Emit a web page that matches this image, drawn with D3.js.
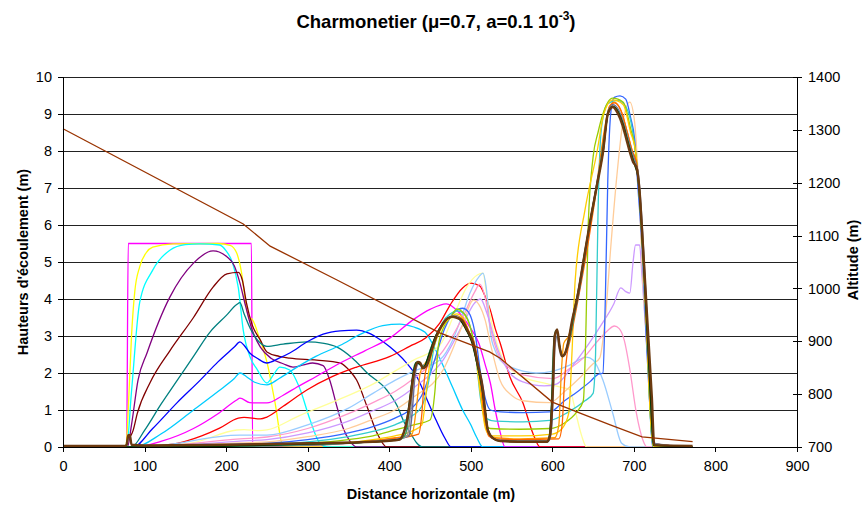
<!DOCTYPE html>
<html><head><meta charset="utf-8">
<script src="https://cdn.jsdelivr.net/npm/d3@7"></script>
<style>body{margin:0;background:#fff} text{font-family:"Liberation Sans",Arial,sans-serif;fill:#000}</style>
</head><body><svg id="c" width="865" height="507"></svg>
<script>
// ---------- DATA ----------
const xTicks = [0,100,200,300,400,500,600,700,800,900];
const hTicks = [0,1,2,3,4,5,6,7,8,9,10];
const altTicks = [700,800,900,1000,1100,1200,1300,1400];

// altitude profile [distance m, altitude m]
const altitude = [[0,1302],[221,1122],[254,1080],[336,1016],[462,916],[523,880],[536,868],[600,785],[634,764],[671,742],[710,719],[772,710]];

// flow heights [distance m, height m], one array per time step
const h00 = [[0,0],[78,0],[80,5.5],[231,5.5],[232.5,0],[772,0]];
const h01 = [[0,0],[77,0],[80,1.0],[84,3.0],[88,4.2],[94,4.87],[102,5.25],[110,5.4],[135,5.49],[190,5.5],[205,5.45],[213,5.24],[219,4.7],[224,3.9],[228,3.5],[232,3.45],[240,3.0],[250,2.3],[260,1.2],[270,0],[772,0]];
const h02 = [[0,0],[78,0],[84,1.5],[94,3.9],[110,4.78],[131,5.32],[150,5.47],[168,5.49],[192,5.46],[200,5.3],[208,4.97],[215,4.3],[221,3.16],[230,2.4],[238,2.1],[250,1.73],[258,1.95],[266,2.16],[278,2.08],[290,1.6],[303,0.73],[315,0.1],[324,0],[772,0]];
const h03 = [[0,0],[79,0],[84,0.6],[92,1.81],[103,2.54],[131,4.05],[160,4.97],[184,5.3],[201,5.14],[210,4.9],[217,4.43],[224,3.8],[232,3.16],[242,2.7],[255,2.4],[270,2.25],[282,2.16],[295,2.22],[306,2.27],[319,2.2],[327,1.81],[336,1.08],[343,0.54],[352,0.15],[360,0],[772,0]];
const h04 = [[0,0],[77,0],[80,0.25],[83,0.3],[86,0.45],[91,0.9],[107,1.75],[131,2.6],[160,3.5],[184,4.32],[201,4.68],[215,4.72],[220,4.5],[225,3.89],[232,3.3],[242,2.89],[250,2.57],[265,2.45],[278,2.4],[311,2.35],[340,2.27],[352,2.05],[360,1.81],[373,1.08],[385,0.38],[397,0],[772,0]];
const h05 = [[0,0],[84,0],[100,0.45],[120,1.15],[140,1.8],[160,2.45],[180,3.1],[200,3.55],[213,3.85],[217,3.9],[222,3.6],[232,3.1],[240,2.85],[250,2.72],[270,2.78],[299,2.84],[320,2.8],[336,2.7],[355,2.4],[373,2.0],[397,1.54],[410,1.1],[417,0.73],[428,0.3],[434,0.1],[441,0],[772,0]];
const h06 = [[0,0],[86,0],[110,0.5],[140,1.2],[168,1.8],[190,2.3],[210,2.7],[217,2.84],[222,2.75],[229,2.54],[238,2.4],[250,2.27],[265,2.4],[278,2.54],[300,2.85],[319,3.05],[340,3.14],[360,3.16],[375,3.08],[389,2.9],[401,2.7],[420,2.3],[435,1.85],[446,1.3],[458,0.7],[468,0.25],[476,0],[772,0]];
const h07 = [[0,0],[88,0],[120,0.35],[160,1.0],[190,1.5],[210,1.85],[217,2.0],[225,1.9],[235,1.75],[250,1.68],[265,1.85],[287,2.16],[310,2.45],[340,2.75],[365,3.05],[392,3.28],[413,3.32],[429,3.25],[444,3.1],[454,2.75],[465,2.25],[478,1.6],[490,1.0],[500,0.6],[507,0.27],[515,0],[772,0]];
const h08 = [[0,0],[88,0],[120,0.15],[160,0.5],[190,0.9],[213,1.27],[217,1.32],[229,1.2],[240,1.19],[250,1.19],[270,1.4],[287,1.62],[310,1.9],[340,2.27],[370,2.6],[401,2.95],[430,3.45],[450,3.72],[470,3.87],[485,3.65],[500,3.2],[510,2.8],[518,2.2],[524,1.73],[530,1.0],[536,0.4],[542,0],[772,0]];
const h09 = [[0,0],[94,0],[140,0.1],[170,0.3],[192,0.51],[215,0.78],[222,0.8],[242,0.76],[250,0.81],[270,1.1],[299,1.54],[330,1.9],[360,2.16],[401,2.45],[425,2.72],[445,2.95],[462,3.35],[475,3.85],[490,4.3],[500,4.43],[511,4.35],[518,4.05],[524,3.7],[530,3.2],[536,2.81],[548,1.89],[564,1.19],[576,0.38],[585,0],[772,0]];
const h10 = [[0,0],[94,0],[160,0.12],[213,0.46],[222,0.47],[240,0.44],[250,0.46],[290,0.85],[340,1.3],[380,1.7],[407,2.05],[430,2.35],[462,2.75],[480,3.6],[495,4.32],[508,4.65],[515,4.7],[519,4.2],[524,3.51],[532,2.8],[540,2.35],[552,2.05],[564,1.89],[589,1.73],[610,1.62],[622,1.54],[626,1.2],[630,0.81],[636,0.3],[642,0],[772,0]];
const h11 = [[0,0],[96,0],[217,0.32],[250,0.32],[300,0.6],[350,1.05],[380,1.45],[407,1.8],[430,2.05],[462,2.35],[478,2.9],[490,3.6],[499,4.16],[510,4.6],[515,4.7],[519,4.3],[524,3.1],[530,2.6],[536,2.35],[550,2.15],[564,2.05],[580,2.0],[601,2.05],[620,2.2],[642,2.43],[650,2.35],[662,1.81],[674,0.92],[685,0.1],[695,0],[772,0]];
const h12 = [[0,0],[96,0],[217,0.22],[250,0.27],[300,0.5],[350,0.9],[380,1.2],[407,1.5],[430,1.85],[466,2.6],[490,3.5],[505,4.2],[511,4.4],[518,4.0],[524,3.24],[536,2.4],[550,2.1],[564,1.95],[601,1.85],[620,2.1],[640,2.45],[655,2.85],[668,3.15],[676,3.27],[682,3.2],[688,2.9],[695,2.1],[703,0.92],[711,0.19],[716,0],[772,0]];
const h13 = [[0,0],[96,0],[217,0.16],[250,0.2],[300,0.38],[350,0.7],[380,0.98],[407,1.25],[430,1.6],[466,2.35],[490,3.3],[505,3.9],[512,4.0],[520,3.6],[532,2.7],[548,2.0],[564,1.76],[590,1.65],[605,1.7],[625,2.2],[645,2.8],[660,3.3],[675,3.85],[684,4.3],[690,4.2],[695,4.16],[699,5.0],[702,5.46],[707,5.46],[710,4.6],[716,2.7],[722,0.92],[725,0],[772,0]];
const h14 = [[0,0],[96,0],[217,0.11],[250,0.14],[300,0.28],[350,0.5],[380,0.75],[407,1.0],[430,1.35],[466,2.08],[490,3.3],[503,3.97],[510,3.85],[518,3.4],[524,2.8],[536,1.8],[550,1.4],[564,1.25],[597,1.2],[615,1.5],[635,1.9],[650,2.25],[658,2.4],[665,3.5],[672,5.5],[679,7.3],[687,8.84],[695,9.32],[701,8.76],[706,7.0],[711,4.5],[716,2.7],[722,0.92],[725,0],[772,0]];
const h15 = [[0,0],[96,0],[217,0.08],[250,0.1],[300,0.2],[350,0.38],[380,0.55],[407,0.78],[425,1.0],[440,1.4],[455,2.3],[468,3.2],[480,3.65],[490,3.75],[497,3.65],[505,3.1],[512,2.0],[518,1.3],[524,1.0],[536,0.95],[564,0.93],[597,0.95],[615,1.25],[634,1.55],[646,1.76],[655,1.95],[662,2.0],[665,4.0],[668,7.2],[672,9.1],[676,9.45],[683,9.49],[690,9.4],[696,8.9],[701,8.3],[705,7.0],[710,5.41],[715,3.0],[720,0.92],[723,0],[772,0]];
const h16 = [[0,0],[96,0],[217,0.05],[250,0.07],[300,0.14],[350,0.28],[380,0.42],[407,0.6],[425,0.8],[440,1.1],[448,1.73],[455,2.7],[465,3.35],[475,3.6],[483,3.68],[492,3.6],[500,3.2],[506,2.5],[512,1.3],[518,0.78],[530,0.7],[564,0.68],[597,0.72],[620,0.95],[640,1.25],[650,1.45],[653,2.5],[656,6.3],[659,8.3],[663,9.0],[668,9.28],[680,9.37],[690,9.2],[700,8.3],[706,7.0],[711,5.2],[716,3.0],[721,0.5],[724,0],[772,0]];
const h17 = [[0,0],[96,0],[250,0.05],[300,0.1],[350,0.2],[380,0.3],[407,0.46],[430,0.6],[450,0.73],[456,1.5],[460,2.7],[466,3.2],[475,3.5],[483,3.73],[490,3.65],[500,3.2],[505,2.7],[512,1.5],[518,0.62],[524,0.5],[560,0.48],[597,0.5],[615,0.65],[630,0.95],[638,1.25],[641,3.0],[644,6.0],[650,7.84],[656,8.5],[662,9.0],[674,9.43],[687,9.32],[696,8.6],[702,8.0],[708,6.4],[715,3.5],[721,0.6],[724,0],[772,0]];
const h18 = [[0,0],[96,0],[300,0.06],[380,0.2],[407,0.3],[430,0.45],[440,0.6],[446,1.6],[450,2.3],[456,2.8],[465,3.25],[475,3.5],[483,3.6],[490,3.5],[498,3.1],[505,2.6],[512,1.4],[518,0.5],[524,0.3],[560,0.3],[600,0.35],[612,0.5],[620,0.9],[624,2.5],[628,4.5],[640,6.4],[655,8.0],[663,9.0],[674,9.38],[687,9.25],[696,8.5],[702,8.0],[708,6.4],[715,3.5],[721,0.6],[724,0],[772,0]];
const h19 = [[0,0],[96,0],[300,0.05],[380,0.17],[407,0.25],[428,0.35],[434,1.2],[438,2.0],[442,2.2],[448,2.4],[456,2.9],[465,3.3],[474,3.5],[482,3.55],[490,3.45],[498,3.1],[505,2.7],[511,1.9],[517,0.8],[522,0.35],[530,0.25],[560,0.22],[603,0.25],[608,0.6],[611,2.0],[614,2.8],[620,3.0],[628,3.7],[640,5.2],[655,7.2],[664,8.6],[670,9.2],[676,9.32],[684,9.1],[692,8.5],[698,8.0],[703,7.7],[708,6.6],[713,4.5],[719,1.8],[724,0.1],[772,0]];
const h20 = [[0,0],[96,0],[300,0.05],[380,0.16],[407,0.23],[436,0.35],[440,0.9],[443,1.8],[447,2.25],[452,2.6],[458,3.0],[466,3.35],[474,3.5],[482,3.52],[490,3.45],[498,3.1],[505,2.75],[511,1.9],[517,0.8],[522,0.3],[530,0.22],[560,0.2],[608,0.22],[612,0.6],[615,1.8],[618,2.5],[622,2.9],[630,3.8],[640,5.0],[655,7.1],[664,8.5],[670,9.2],[676,9.3],[684,9.1],[692,8.5],[698,8.0],[703,7.7],[708,6.6],[713,4.5],[719,1.8],[724,0.1],[772,0]];
const h21 = [[0,0],[96,0],[300,0.05],[380,0.15],[407,0.2],[424,0.3],[428,0.9],[431,1.8],[434,2.2],[437,2.3],[440,2.2],[444,2.2],[450,2.55],[457,2.95],[465,3.3],[473,3.5],[480,3.55],[487,3.47],[495,3.2],[502,2.85],[508,2.3],[514,1.6],[518,0.9],[521,0.45],[527,0.24],[536,0.18],[570,0.16],[596,0.17],[599,0.5],[601,1.5],[603,2.7],[606,3.0],[609,2.7],[612,2.45],[616,2.55],[620,2.8],[626,3.5],[632,4.1],[640,5.2],[648,6.3],[656,7.3],[663,8.2],[668,9.0],[674,9.25],[681,9.12],[687,8.78],[692,8.4],[697,8.0],[701,7.75],[705,7.45],[709,6.4],[714,4.4],[720,1.8],[724,0.1],[772,0]];
const h22 = [[0,0],[96,0],[300,0.06],[380,0.15],[410,0.2],[422,0.3],[426,0.9],[430,1.8],[433,2.2],[436,2.3],[439,2.2],[444,2.2],[450,2.6],[457,3.0],[465,3.32],[473,3.5],[480,3.55],[487,3.47],[495,3.18],[502,2.83],[508,2.25],[514,1.58],[518,0.9],[521,0.45],[527,0.24],[536,0.17],[570,0.15],[595,0.16],[598,0.5],[600,1.6],[602,2.9],[605,3.1],[608,2.7],[611,2.45],[615,2.52],[619,2.75],[626,3.55],[632,4.15],[640,5.25],[648,6.3],[656,7.3],[663,8.2],[668,9.05],[674,9.22],[681,9.08],[687,8.75],[692,8.35],[697,7.95],[701,7.7],[705,7.4],[709,6.3],[714,4.3],[720,1.7],[724,0.08],[772,0]];
const h23 = [[0,0],[96,0],[300,0.07],[380,0.14],[412,0.2],[420,0.35],[424,0.9],[428,1.8],[431,2.2],[434,2.3],[438,2.22],[443,2.18],[450,2.6],[457,3.0],[465,3.3],[472,3.48],[479,3.53],[486,3.46],[495,3.16],[502,2.82],[508,2.22],[514,1.56],[518,0.9],[521,0.45],[527,0.24],[536,0.16],[570,0.15],[594,0.15],[597,0.4],[599,1.2],[601,2.5],[604,3.15],[607,3.0],[610,2.6],[613,2.45],[617,2.6],[622,3.0],[628,3.7],[634,4.4],[642,5.5],[650,6.5],[658,7.5],[664,8.4],[669,9.1],[674,9.2],[681,9.05],[687,8.72],[692,8.32],[697,7.92],[701,7.65],[705,7.35],[709,6.2],[714,4.2],[720,1.6],[724,0.06],[772,0]];
const h24 = [[0,0],[96,0],[300,0.08],[380,0.14],[412,0.2],[418,0.4],[422,0.8],[427,1.6],[430,2.05],[433,2.28],[437,2.25],[442,2.15],[448,2.45],[456,2.95],[464,3.28],[471,3.47],[478,3.52],[485,3.48],[494,3.18],[501,2.85],[508,2.22],[514,1.56],[518,0.9],[521,0.46],[527,0.24],[536,0.16],[570,0.14],[594,0.14],[597,0.35],[599,1.0],[601,2.0],[603,3.05],[606,3.12],[609,2.7],[612,2.45],[616,2.55],[620,2.9],[626,3.6],[632,4.25],[640,5.3],[648,6.3],[656,7.25],[663,8.1],[668,9.0],[674,9.2],[681,9.04],[687,8.7],[692,8.3],[697,7.9],[701,7.62],[705,7.3],[709,6.1],[714,4.1],[720,1.5],[724,0.05],[772,0]];
const h25 = [[0,0.03],[76,0.03],[78,0.06],[80,0.32],[82,0.32],[84,0.06],[100,0.04],[200,0.06],[300,0.1],[380,0.14],[413,0.2],[418,0.4],[422,0.73],[426,1.3],[429,1.81],[432,2.15],[435,2.3],[438,2.27],[441,2.13],[446,2.2],[452,2.6],[458,3.0],[465,3.3],[472,3.48],[478,3.52],[483,3.49],[489,3.43],[496,3.15],[503,2.81],[509,2.2],[515,1.54],[518,0.9],[521,0.46],[527,0.24],[536,0.16],[570,0.14],[593,0.14],[597,0.3],[599,0.8],[601,1.73],[603,3.0],[606,3.18],[609,2.7],[612,2.45],[615,2.5],[618,2.7],[625,3.5],[630,3.97],[638,5.0],[646,6.05],[655,7.1],[662,7.95],[668,9.0],[674,9.19],[680,9.03],[686,8.7],[691,8.3],[696,7.9],[699,7.7],[703,7.57],[707,6.9],[710,5.86],[716,3.6],[722,1.35],[725,0.05],[772,0.03]];

const flowSeries = [h00,h01,h02,h03,h04,h05,h06,h07,h08,h09,h10,h11,h12,h13,h14,h15,h16,h17,h18,h19,h20,h21,h22,h23,h24,h25];
const flowColors = ["#FF00FF","#FFFF00","#00FFFF","#800080","#800000","#008080","#0000FF","#00CCFF","#FF00FF","#FF0000",
  "#FFFF99","#99CCFF","#FF99CC","#CC99FF","#FFCC99","#3366FF","#33CCCC","#99CC00","#FFCC00","#FF9900",
  "#FF6600","#666699","#969696","#339966","#003300","#6B3A10"];
const flowWidths = [1.3,1.3,1.3,1.3,1.3,1.3,1.3,1.3,1.3,1.3,1.3,1.3,1.3,1.3,1.3,1.3,1.3,1.3,1.3,1.3,1.3,1.5,1.5,1.5,1.5,2.4];
const altColor = "#993300";

// ---------- CHART ----------
const svg = d3.select("#c");
svg.append("rect").attr("width",865).attr("height",507).attr("fill","#fff");
const L=63,R=797,T=77,B=447;
const x = d3.scaleLinear().domain([0,900]).range([L,R]);
const y = d3.scaleLinear().domain([0,10]).range([B,T]);
const y2 = d3.scaleLinear().domain([700,1400]).range([B,T]);

// gridlines
svg.append("g").selectAll("line").data(hTicks.filter(d=>d>0)).join("line")
  .attr("x1",L).attr("x2",R).attr("y1",d=>y(d)).attr("y2",d=>y(d))
  .attr("stroke","#222").attr("stroke-width",1).attr("shape-rendering","crispEdges");

// flow lines
const line = d3.line().x(d=>x(d[0])).y(d=>y(d[1])).curve(d3.curveMonotoneX);
const gf = svg.append("g");
flowSeries.forEach((s,i)=>{
  gf.append("path").attr("d",line(s)).attr("fill","none")
    .attr("stroke",flowColors[i]).attr("stroke-width",flowWidths[i]).attr("stroke-linejoin","round");
});
// altitude
const aline = d3.line().x(d=>x(d[0])).y(d=>y2(d[1]));
svg.append("path").attr("d",aline(altitude)).attr("fill","none").attr("stroke",altColor).attr("stroke-width",1.3);

// axes
const fs = "14.5px";
const ax = svg.append("g").attr("transform",`translate(0,${B})`)
  .call(d3.axisBottom(x).tickValues(xTicks).tickSize(5).tickPadding(9).tickFormat(d3.format("d")));
const ay = svg.append("g").attr("transform",`translate(${L},0)`)
  .call(d3.axisLeft(y).tickValues(hTicks).tickSize(5).tickPadding(6).tickFormat(d3.format("d")));
const ay2 = svg.append("g").attr("transform",`translate(${R},0)`)
  .call(d3.axisRight(y2).tickValues(altTicks).tickSize(5).tickPadding(6).tickFormat(d3.format("d")));
ay2.selectAll(".tick line").attr("x1",-4);
[ax,ay,ay2].forEach(g=>{
  g.select(".domain").attr("stroke","#000").attr("shape-rendering","crispEdges");
  g.selectAll(".tick line").attr("stroke","#000").attr("shape-rendering","crispEdges");
  g.selectAll(".tick text").attr("font-size",fs).attr("font-family","Liberation Sans, Arial, sans-serif").attr("fill","#000");
});
ax.select(".domain").attr("d",`M${L},0.5H${R}`);
ay.select(".domain").attr("d",`M0.5,${B}V${T}`);
ay2.select(".domain").attr("d",`M0.5,${B}V${T}`);

// titles
const t = svg.append("text").attr("x",436).attr("y",28).attr("text-anchor","middle")
  .attr("font-size","18.5px").attr("font-weight","bold");
t.append("tspan").text("Charmonetier (\u03bc=0.7, a=0.1 10");
t.append("tspan").attr("dy",-8).attr("font-size","12px").text("-3");
t.append("tspan").attr("dy",8).text(")");

svg.append("text").attr("x",431).attr("y",499).attr("text-anchor","middle")
  .attr("font-size","14.5px").attr("font-weight","bold").text("Distance horizontale (m)");
svg.append("text").attr("transform",`translate(28,${(T+B)/2}) rotate(-90)`).attr("text-anchor","middle")
  .attr("font-size","14.5px").attr("font-weight","bold").text("Hauteurs d'\u00e9coulement (m)");
svg.append("text").attr("transform",`translate(858,${(T+B)/2 - 2}) rotate(-90)`).attr("text-anchor","middle")
  .attr("font-size","14.5px").attr("font-weight","bold").text("Altitude (m)");
</script></body></html>
